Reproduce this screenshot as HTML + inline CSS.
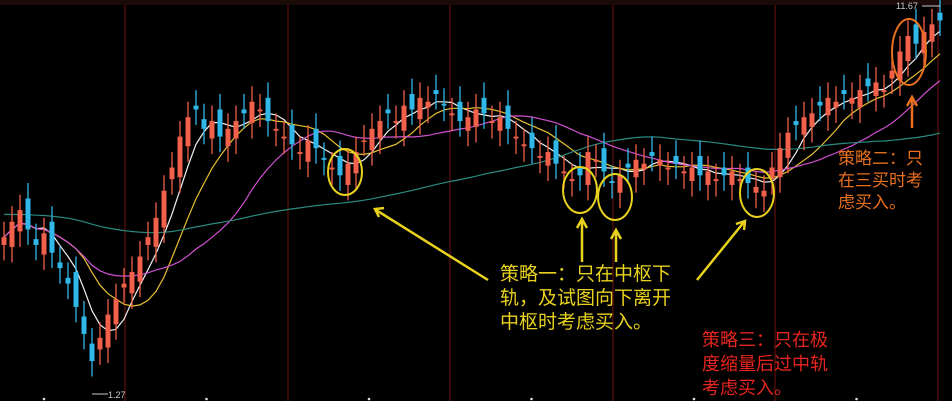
<!DOCTYPE html>
<html><head><meta charset="utf-8"><style>
body{margin:0;background:#000;width:952px;height:401px;overflow:hidden}
svg{display:block}
text{font-family:"Liberation Sans","Noto Sans CJK SC",sans-serif}
</style></head><body>
<svg id="c" width="952" height="401">
<rect width="952" height="401" fill="#000"/>
<rect x="0" y="0" width="952" height="5" fill="#1a0a08"/>
<g id="grid"></g><g id="ma"></g><g id="candles"></g>
<g fill="none" stroke-width="2">
<ellipse cx="345" cy="172" rx="17" ry="23" stroke="#e8d21e"/>
<ellipse cx="580" cy="190" rx="17" ry="23" stroke="#e8d21e"/>
<ellipse cx="615" cy="197" rx="17" ry="23" stroke="#e8d21e"/>
<ellipse cx="757" cy="193" rx="17" ry="24" stroke="#e8d21e"/>
<ellipse cx="909" cy="52" rx="17" ry="33" stroke="#e8701e"/>
<g stroke="#e8d21e" stroke-width="2.5">
<line x1="376" y1="210" x2="488" y2="280"/><polyline points="384,208 375,209 379,217"/>
<line x1="582" y1="262" x2="582" y2="220"/><polyline points="577,228 582,219 587,228"/>
<line x1="616" y1="262" x2="616" y2="231"/><polyline points="611,239 616,230 621,239"/>
<line x1="697" y1="280" x2="744" y2="222"/><polyline points="736,224 745,221 744,230"/>
</g>
<g stroke="#e8701e" stroke-width="2.5">
<line x1="912" y1="128" x2="912" y2="98"/><polyline points="907,106 912,97 917,106"/>
</g>
</g>
<g font-size="19" fill="#e8d21e">
<text x="500" y="280">策略一：只在中枢下</text>
<text x="500" y="304">轨，及试图向下离开</text>
<text x="500" y="328">中枢时考虑买入。</text>
</g>
<g font-size="18" fill="#e8251e">
<text x="702" y="346">策略三：只在极</text>
<text x="702" y="370">度缩量后过中轨</text>
<text x="702" y="394">考虑买入。</text>
</g>
<g font-size="17" fill="#e8701e">
<text x="838" y="164">策略二：只</text>
<text x="838" y="186">在三买时考</text>
<text x="838" y="208">虑买入。</text>
</g>
<text x="896" y="9" font-size="9" fill="#ccc">11.67</text>
<line x1="922" y1="6" x2="940" y2="6" stroke="#ccc" stroke-width="1"/>
<text x="108" y="398" font-size="9" fill="#ccc">1.27</text>
<line x1="92" y1="394" x2="108" y2="394" stroke="#ccc" stroke-width="1"/>
</svg>
<script>
const closes=[40,44,47,42,38,41, 36,32,28,22,15,8, 14,20,24,28,31,35, 40,45,52,58,66,71,
73,68,70,66,68,70, 72,75,73,70,68,66, 64,62,65,63,60,58, 56,59,62,65,68,70,
72,70,74,73,76,75, 77,74,72,70,71,73, 72,70,71,68,66,64, 63,61,62,59,57,55,
56,62,60,57,54,56, 58,60,59,61,60,58, 59,57,58,56,57,55, 56,57,55,54,53,52,
58,63,67,69,71,72, 74,76,75,77,76,78, 79,80,78,83,88,92, 90,93,95,96];
const gridX=[125,288,450,613,775,938];
const ns="http://www.w3.org/2000/svg";
const xs=i=>4+i*8;
const ys=v=>392-v*3.87;
const G=document.getElementById('grid');
gridX.forEach(x=>{const l=document.createElementNS(ns,'line');


l.setAttribute('x1',x);l.setAttribute('x2',x);l.setAttribute('y1',5);l.setAttribute('y2',401);
l.setAttribute('stroke','#3a0a08');l.setAttribute('stroke-width','2');G.appendChild(l);});
for(let k=0;k<6;k++){const d=document.createElementNS(ns,'circle');


d.setAttribute('cx',44+k*162.5);d.setAttribute('cy',399);d.setAttribute('r',1.3);d.setAttribute('fill','#ddd');G.appendChild(d);}
const C=document.getElementById('candles');
closes.forEach((c,i)=>{const o=i?closes[i-1]+(i%3==0?3:-2.5):c-2;const up=c>=o;
const col=up?'#f0604a':'#30b8e8';const hi=Math.max(o,c)+4,lo=Math.min(o,c)-4;
const w=document.createElementNS(ns,'line');


w.setAttribute('x1',xs(i));w.setAttribute('x2',xs(i));w.setAttribute('y1',ys(hi));w.setAttribute('y2',ys(lo));
w.setAttribute('stroke',col);w.setAttribute('stroke-width','1.3');C.appendChild(w);
const r=document.createElementNS(ns,'rect');


r.setAttribute('x',xs(i)-2.5);r.setAttribute('y',ys(Math.max(o,c)));r.setAttribute('width',5);
r.setAttribute('height',Math.max(1.5,Math.abs(ys(o)-ys(c))));r.setAttribute('fill',col);C.appendChild(r);});
const M=document.getElementById('ma');
[[5,'#f0f0f0'],[10,'#e8c030'],[20,'#d050d0'],[60,'#2a8a80']].forEach(([n,col])=>{
let pts=closes.map((c,i)=>{const s=closes.slice(Math.max(0,i-n+1),i+1);
let a=s.reduce((p,q)=>p+q,0)/s.length; if(n==60&&i<60){a=(a*s.length+46*(60-s.length))/60;}
return xs(i)+','+ys(a).toFixed(1);}).join(' ');
const p=document.createElementNS(ns,'polyline');


p.setAttribute('points',pts);p.setAttribute('fill','none');p.setAttribute('stroke',col);p.setAttribute('stroke-width','1.2');M.appendChild(p);});
</script>
</body></html>
